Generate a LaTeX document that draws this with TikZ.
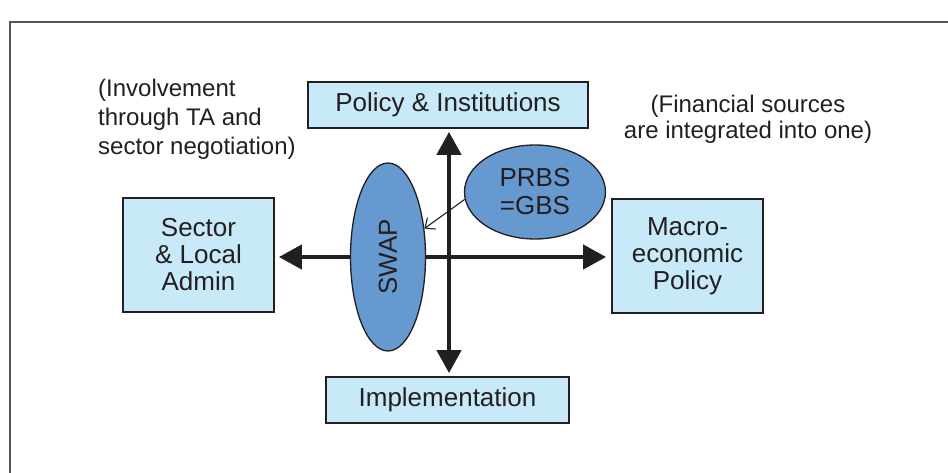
\documentclass[tikz,border=0pt]{standalone}
\usepackage{fontspec}
\setmainfont{Liberation Sans}
\usetikzlibrary{arrows.meta,shapes.geometric}
\definecolor{boxfill}{HTML}{C8EAF8}
\definecolor{ellfill}{HTML}{6699D0}
\definecolor{ink}{HTML}{231F20}
\definecolor{frame}{HTML}{555555}
\tikzset{
  box/.style={draw=ink, line width=1.8pt, fill=boxfill, inner sep=0pt, align=center, text=ink, font=\fontsize{26}{27}\selectfont},
  ell/.style={draw=ink, line width=1.3pt, fill=ellfill, ellipse, inner sep=0pt, align=center, text=ink, font=\fontsize{26}{28}\selectfont},
  note/.style={inner sep=0pt, text=ink, font=\fontsize{24}{29}\selectfont},
  bigarrow/.style={draw=ink, line width=4.5pt, -{Triangle[width=24pt,length=23pt]}},
  thinarrow/.style={draw=ink, line width=1.1pt, -{Straight Barb[length=8pt,width=14pt,line width=1.1pt]}}
}
\begin{document}
\begin{tikzpicture}[x=1pt,y=-1pt]
\useasboundingbox (0,0) rectangle (948,473);
\draw[frame, line width=2pt] (10,473) -- (10,22) -- (948,22);
% boxes
\node[box, minimum width=280pt, minimum height=46pt] (pol) at (448,105) {Policy \& Institutions};
\node[box, minimum width=151pt, minimum height=114pt] (sec) at (198.5,255) {Sector\\\& Local\\Admin};
\node[box, minimum width=151pt, minimum height=114pt] (mac) at (687.5,256) {Macro-\\economic\\Policy};
\node[box, minimum width=243pt, minimum height=46pt] (imp) at (447.5,400) {Implementation};
% annotations
\node[note, anchor=west, align=left] (n1) at (98,119) {(Involvement\\through TA and\\sector negotiation)};
\node[note, anchor=center, align=center, font=\fontsize{24}{26}\selectfont] (n2) at (748,119) {(Financial sources\\are integrated into one)};
% axes
\coordinate (c) at (449,257);
\draw[bigarrow, shorten >=3pt] (c) -- (c |- pol.south);
\draw[bigarrow, shorten >=3pt] (c) -- (c |- imp.north);
\draw[bigarrow, shorten >=4pt] (c) -- (sec.east |- c);
\draw[bigarrow, shorten >=5pt] (c) -- (mac.west |- c);
% ellipses
\node[ell, minimum width=75pt, minimum height=188pt] (swap) at (388,257) {};
\node[text=ink, font=\fontsize{26}{29}\selectfont, rotate=90, inner sep=0pt] (swapt) at (swap.center) {SWAP};
\node[ell, minimum width=141pt, minimum height=94pt] (prbs) at (535,192) {PRBS\\=GBS};
\draw[thinarrow] (prbs.186) -- (swap.38);
\end{tikzpicture}
\end{document}
